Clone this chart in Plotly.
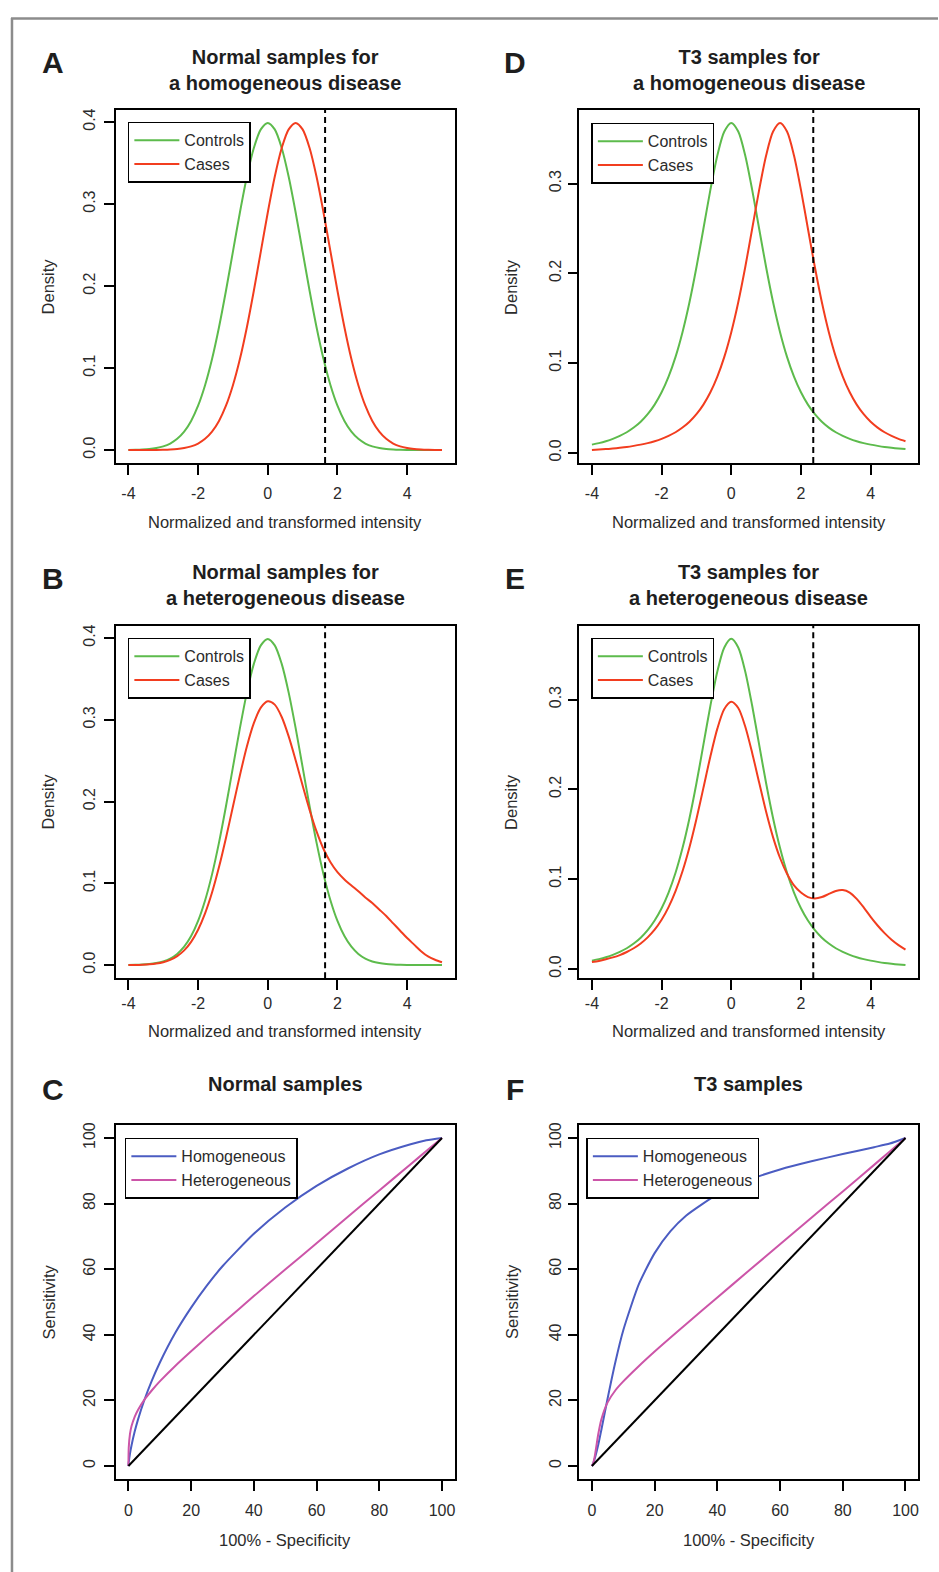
import plotly.graph_objects as go

W, H = 939, 1572

# ---------------- data ----------------
X_GRID = [-4.0, -3.8, -3.6, -3.4, -3.2, -3.0, -2.8, -2.6, -2.4, -2.2,
          -2.0, -1.8, -1.6, -1.4, -1.2, -1.0, -0.8, -0.6, -0.4, -0.2,
          0.0,
          0.2, 0.4, 0.6, 0.8, 1.0, 1.2, 1.4, 1.6, 1.8, 2.0,
          2.2, 2.4, 2.6, 2.8, 3.0, 3.2, 3.4, 3.6, 3.8, 4.0,
          4.2, 4.4, 4.6, 4.8, 5.0]

NORMAL_CONTROLS = [0.0001, 0.0003, 0.0006, 0.0012, 0.0024, 0.0044, 0.0079, 0.0136, 0.0224, 0.0355,
                   0.0540, 0.0790, 0.1109, 0.1497, 0.1942, 0.2420, 0.2897, 0.3332, 0.3683, 0.3910,
                   0.3989,
                   0.3910, 0.3683, 0.3332, 0.2897, 0.2420, 0.1942, 0.1497, 0.1109, 0.0790, 0.0540,
                   0.0355, 0.0224, 0.0136, 0.0079, 0.0044, 0.0024, 0.0012, 0.0006, 0.0003, 0.0001,
                   0.0001, 0.0000, 0.0000, 0.0000, 0.0000]

NORMAL_HOMOG_CASES = [0.0000, 0.0000, 0.0000, 0.0001, 0.0001, 0.0003, 0.0006, 0.0012, 0.0024, 0.0044,
                      0.0079, 0.0136, 0.0224, 0.0355, 0.0540, 0.0790, 0.1109, 0.1497, 0.1942, 0.2420,
                      0.2897,
                      0.3332, 0.3683, 0.3910, 0.3989, 0.3910, 0.3683, 0.3332, 0.2897, 0.2420, 0.1942,
                      0.1497, 0.1109, 0.0790, 0.0540, 0.0355, 0.0224, 0.0136, 0.0079, 0.0044, 0.0024,
                      0.0012, 0.0006, 0.0003, 0.0001, 0.0001]

NORMAL_HETERO_CASES = [0.0001, 0.0002, 0.0005, 0.0010, 0.0019, 0.0035, 0.0063, 0.0109, 0.0179, 0.0284,
                       0.0432, 0.0632, 0.0887, 0.1198, 0.1555, 0.1938, 0.2321, 0.2673, 0.2958, 0.3149,
                       0.3226,
                       0.3185, 0.3034, 0.2797, 0.2506, 0.2195, 0.1897, 0.1634, 0.1419, 0.1257, 0.1136,
                       0.1047, 0.0973, 0.0903, 0.0826, 0.0760, 0.0680, 0.0600, 0.0510, 0.0420, 0.0330,
                       0.0250, 0.0170, 0.0105, 0.0065, 0.0035]

T3_CONTROLS = [0.0092, 0.0109, 0.0130, 0.0156, 0.0189, 0.0230, 0.0282, 0.0347, 0.0431, 0.0538,
               0.0675, 0.0850, 0.1070, 0.1345, 0.1678, 0.2068, 0.2497, 0.2930, 0.3313, 0.3580,
               0.3676,
               0.3580, 0.3313, 0.2930, 0.2497, 0.2068, 0.1678, 0.1345, 0.1070, 0.0850, 0.0675,
               0.0538, 0.0431, 0.0347, 0.0282, 0.0230, 0.0189, 0.0156, 0.0130, 0.0109, 0.0092,
               0.0078, 0.0066, 0.0057, 0.0049, 0.0042]

T3_HOMOG_CASES = [0.0032, 0.0037, 0.0042, 0.0049, 0.0057, 0.0066, 0.0078, 0.0092, 0.0109, 0.0130,
                  0.0156, 0.0189, 0.0230, 0.0282, 0.0347, 0.0431, 0.0538, 0.0675, 0.0850, 0.1070,
                  0.1345,
                  0.1678, 0.2068, 0.2497, 0.2930, 0.3313, 0.3580, 0.3676, 0.3580, 0.3313, 0.2930,
                  0.2497, 0.2068, 0.1678, 0.1345, 0.1070, 0.0850, 0.0675, 0.0538, 0.0431, 0.0347,
                  0.0282, 0.0230, 0.0189, 0.0156, 0.0130]

T3_HETERO_CASES = [0.0076, 0.0089, 0.0107, 0.0128, 0.0154, 0.0188, 0.0230, 0.0283, 0.0351, 0.0436,
                   0.0547, 0.0688, 0.0866, 0.1087, 0.1355, 0.1670, 0.2016, 0.2366, 0.2676, 0.2895,
                   0.2975,
                   0.2905, 0.2700, 0.2405, 0.2075, 0.1750, 0.1465, 0.1235, 0.1060, 0.0930, 0.0850,
                   0.0800, 0.0785, 0.0800, 0.0835, 0.0868, 0.0878, 0.0850, 0.0780, 0.0685, 0.0580,
                   0.0483, 0.0398, 0.0325, 0.0265, 0.0215]

CUTOFF_NORMAL = 1.645
CUTOFF_T3 = 2.353

ROC_FPR_NORMAL = [0, 0.1, 0.5, 1, 2, 3, 5, 7.5, 10, 15, 20, 25, 30, 40, 50, 60, 70, 80, 90, 95, 100]
ROC_NORMAL_HOMOG = [0, 1.1, 3.8, 6.35, 10.5, 14.0, 19.9, 26.1, 31.5, 40.7, 48.3, 55.0, 60.9, 70.8,
                    78.8, 85.4, 90.7, 95.0, 98.1, 99.3, 100]
ROC_NORMAL_HETERO = [0, 5.6, 9.8, 12.2, 15.0, 17.0, 20.1, 23.1, 25.8, 30.6, 35.0, 39.3, 43.5, 51.8,
                     59.9, 67.9, 76.0, 84.0, 92.0, 96.0, 100]

ROC_FPR_T3 = [0, 0.3, 0.5, 1, 2, 3, 5, 7.5, 10, 15, 20, 25, 30, 40, 50, 60, 70, 80, 90, 95, 100]
ROC_T3_HOMOG = [0, 0.56, 1.07, 2.6, 6.4, 11.0, 20.6, 31.8, 41.4, 55.5, 64.9, 71.5, 76.3, 82.8,
                87.2, 90.4, 92.9, 95.1, 97.2, 98.3, 100]
ROC_T3_HETERO = [0, 0.56, 1.18, 3.5, 9.6, 14.2, 19.4, 23.1, 25.8, 30.5, 34.9, 39.1, 43.2, 51.4,
                 59.5, 67.6, 75.7, 83.7, 91.8, 95.9, 100]

DIAG = [0, 100]

DENS_TICKS_X = [-4, -2, 0, 2, 4]
DENS_TICKS_Y4 = [0.0, 0.1, 0.2, 0.3, 0.4]
DENS_TICKS_Y3 = [0.0, 0.1, 0.2, 0.3]
ROC_TICKS = [0, 20, 40, 60, 80, 100]

# ---------------- style ----------------
GREEN = "#5DBB4C"
RED = "#F23D1F"
BLUE = "#4B5CC2"
PINK = "#CC55A8"
TXT = "#2b2b2b"
FONT = "Liberation Sans, Arial, Helvetica, sans-serif"


def fx(px):
    return px / W


def fy(py):
    return 1 - py / H


COL_X = [(116, 455), (580, 919)]
ROW_Y = [(107, 461), (624, 977), (1124, 1479)]
ROW_XSTANDOFF = [5, 0, 6]
COL_YSTANDOFF = [3, 0]

fig = go.Figure()

panels = [
    (1, 0, 0, "dens"), (2, 0, 1, "dens"), (3, 0, 2, "roc"),
    (4, 1, 0, "dens"), (5, 1, 1, "dens"), (6, 1, 2, "roc"),
]

dens_data = {
    1: (NORMAL_CONTROLS, NORMAL_HOMOG_CASES, CUTOFF_NORMAL, [-0.016, 0.4149], DENS_TICKS_Y4),
    2: (NORMAL_CONTROLS, NORMAL_HETERO_CASES, CUTOFF_NORMAL, [-0.016, 0.4149], DENS_TICKS_Y4),
    4: (T3_CONTROLS, T3_HOMOG_CASES, CUTOFF_T3, [-0.0114, 0.3822], DENS_TICKS_Y3),
    5: (T3_CONTROLS, T3_HETERO_CASES, CUTOFF_T3, [-0.0103, 0.3821], DENS_TICKS_Y3),
}
roc_data = {
    3: (ROC_FPR_NORMAL, ROC_NORMAL_HOMOG, ROC_NORMAL_HETERO),
    6: (ROC_FPR_T3, ROC_T3_HOMOG, ROC_T3_HETERO),
}

legend_pos = {1: (128, 119), 2: (128, 636), 3: (125, 1137), 4: (592, 120), 5: (592, 636), 6: (587, 1137)}

shapes = []
for idx, col, row, kind in panels:
    sfx = "" if idx == 1 else str(idx)
    xa, ya = "x" + sfx, "y" + sfx
    leg = "legend" + sfx
    if kind == "dens":
        ctrl, cases, cut, yr, yt = dens_data[idx]
        fig.add_trace(go.Scatter(x=X_GRID, y=ctrl, mode="lines", name="Controls",
                                 line=dict(color=GREEN, width=2, shape="spline", smoothing=0.8),
                                 xaxis=xa, yaxis=ya, legend=leg))
        fig.add_trace(go.Scatter(x=X_GRID, y=cases, mode="lines", name="Cases",
                                 line=dict(color=RED, width=2, shape="spline", smoothing=0.8),
                                 xaxis=xa, yaxis=ya, legend=leg))
        shapes.append(dict(type="line", xref=xa, yref=ya + " domain", x0=cut, x1=cut, y0=0, y1=1,
                           line=dict(color="black", width=2, dash="6px,4px")))
        xr = [-4.36, 5.36]
        xt = DENS_TICKS_X
        xtt = [str(v) for v in xt]
        ytt = ["%.1f" % v for v in yt]
    else:
        fpr, homog, hetero = roc_data[idx]
        fig.add_trace(go.Scatter(x=fpr, y=homog, mode="lines", name="Homogeneous",
                                 line=dict(color=BLUE, width=2, shape="spline", smoothing=0.6),
                                 xaxis=xa, yaxis=ya, legend=leg))
        fig.add_trace(go.Scatter(x=fpr, y=hetero, mode="lines", name="Heterogeneous",
                                 line=dict(color=PINK, width=2, shape="spline", smoothing=0.6),
                                 xaxis=xa, yaxis=ya, legend=leg))
        fig.add_trace(go.Scatter(x=DIAG, y=DIAG, mode="lines", showlegend=False,
                                 line=dict(color="black", width=2), xaxis=xa, yaxis=ya))
        xr = [-4, 104]
        yr = [-4, 104]
        xt = ROC_TICKS
        yt = ROC_TICKS
        xtt = [str(v) for v in xt]
        ytt = [str(v) for v in yt]

    x0, x1 = COL_X[col]
    y0, y1 = ROW_Y[row]
    common = dict(showgrid=False, zeroline=False, showline=True, linecolor="black", linewidth=1.5,
                  mirror=True, ticks="outside", ticklen=10, tickwidth=1.5, tickcolor="black",
                  tickfont=dict(family=FONT, size=16, color=TXT))
    fig.layout["xaxis" + sfx] = dict(domain=[fx(x0), fx(x1)], range=xr, anchor=ya,
                                     tickvals=xt, ticktext=xtt,
                                     ticklabelstandoff=ROW_XSTANDOFF[row], **common)
    fig.layout["yaxis" + sfx] = dict(domain=[fy(y1), fy(y0)], range=yr, anchor=xa,
                                     tickvals=yt, ticktext=ytt, tickangle=-90,
                                     ticklabelstandoff=COL_YSTANDOFF[col], **common)
    lx, ly = legend_pos[idx]
    fig.layout[leg] = dict(x=fx(lx), y=fy(ly), xanchor="left", yanchor="top", bgcolor="white",
                           bordercolor="black", borderwidth=1.5,
                           font=dict(family=FONT, size=16, color=TXT), itemwidth=45,
                           tracegroupgap=0, traceorder="normal")

# frame (partial border of the original figure)
shapes.append(dict(type="line", xref="paper", yref="paper", x0=fx(12), x1=fx(12), y0=0, y1=fy(15),
                   line=dict(color="#8c8c8c", width=2.5)))
shapes.append(dict(type="line", xref="paper", yref="paper", x0=fx(11), x1=1, y0=fy(15.5), y1=fy(15.5),
                   line=dict(color="#8c8c8c", width=2.5)))

annotations = []


def ann(text, x, y, size, bold=False, angle=0):
    annotations.append(dict(text=("<b>%s</b>" % text) if bold else text, x=fx(x), y=fy(y),
                            xref="paper", yref="paper", showarrow=False, xanchor="center",
                            yanchor="middle", textangle=angle,
                            font=dict(family=FONT, size=size, color=TXT if not bold else "#1e1e1e")))


for letter, x, y in [("A", 53, 60), ("B", 53, 577), ("C", 53, 1089),
                     ("D", 516, 60), ("E", 516, 577), ("F", 516, 1089)]:
    ann(letter, x, y, 30, bold=True)

ann("Normal samples for<br>a homogeneous disease", 285.5, 67.5, 20, bold=True)
ann("Normal samples for<br>a heterogeneous disease", 285.5, 583, 20, bold=True)
ann("Normal samples", 285.5, 1083, 20, bold=True)
ann("T3 samples for<br>a homogeneous disease", 749.5, 67.5, 20, bold=True)
ann("T3 samples for<br>a heterogeneous disease", 749.5, 583, 20, bold=True)
ann("T3 samples", 749.5, 1083, 20, bold=True)

for cx in (285.5, 749.5):
    ann("Normalized and transformed intensity", cx, 520, 16.5)
    ann("Normalized and transformed intensity", cx, 1030, 16.5)
    ann("100% - Specificity", cx, 1540, 16.5)
for cx in (49, 512):
    ann("Density", cx, 284, 16.5, angle=-90)
    ann("Density", cx, 800, 16.5, angle=-90)
    ann("Sensitivity", cx, 1301, 16.5, angle=-90)

fig.update_layout(width=W, height=H, margin=dict(l=0, r=0, t=0, b=0),
                  paper_bgcolor="white", plot_bgcolor="white",
                  shapes=shapes, annotations=annotations, showlegend=True,
                  font=dict(family=FONT, color=TXT))

fig.write_html("out.html", config={"displayModeBar": False},
               post_script="document.body.style.margin='0';")
